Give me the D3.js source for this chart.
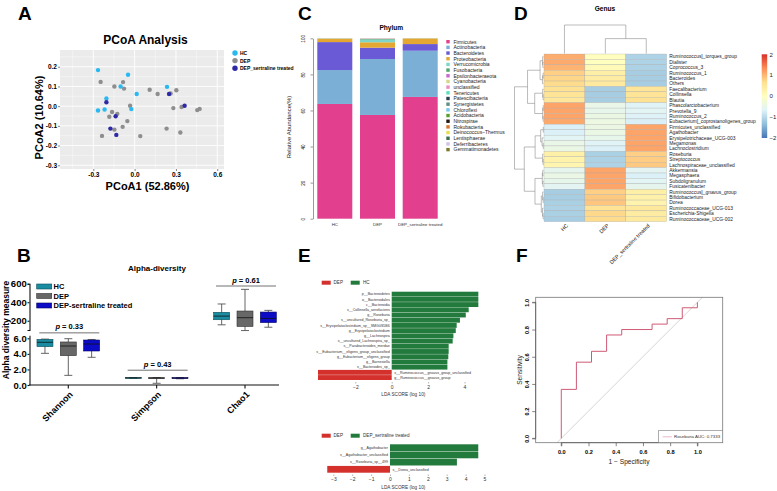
<!DOCTYPE html>
<html>
<head>
<meta charset="utf-8">
<script src="https://d3js.org/d3.v7.min.js"></script>
<style>body{margin:0;background:#fff}</style>
</head>
<body>
<script>
// ---------------- data ----------------
// A: PCoA
const pcoaGroups = ['HC', 'DEP', 'DEP_sertraline treated']
const pcoaHC = [[-0.266,0.183],[-0.048,0.159],[-0.102,0.100],[0.015,0.062],[0.235,0.098],[-0.205,0.039],[-0.266,-0.022],[-0.218,-0.017],[-0.024,-0.015]]
const pcoaDEP = [[-0.247,0.123],[-0.147,0.100],[-0.084,0.122],[-0.077,0.089],[0.109,0.083],[0.167,0.062],[0.303,0.081],[0.261,0.064],
  [-0.033,0.002],[-0.164,-0.030],[-0.126,-0.039],[-0.184,-0.054],[-0.053,-0.076],[-0.087,-0.105],[-0.147,-0.119],[-0.237,-0.151],
  [0.041,-0.152],[0.232,-0.114],[0.332,-0.134],[0.281,-0.010],[0.341,-0.004],[0.455,-0.020],[0.472,-0.014]]
const pcoaSert = [[-0.205,0.020],[-0.138,-0.051],[-0.176,-0.114],[-0.133,-0.146],[0.250,0.062],[0.363,0.002]]
const pcoaXTicks = [-0.3, 0, 0.3, 0.6]
const pcoaYTicks = [-0.3, -0.2, -0.1, 0, 0.1, 0.2]
const pcoaXMinor = [-0.45, -0.15, 0.15, 0.45]
const pcoaYMinor = [-0.25, -0.15, -0.05, 0.05, 0.15, 0.25]

// B: alpha diversity, each box is [min, q1, median, q3, max]
const alphaMetrics = ['Shannon', 'Simpson', 'Chao1']
const alphaGroups = ['HC', 'DEP', 'DEP-sertraline treated']
const shannonBox = [[4.07,4.93,5.49,5.87,5.9],[1.24,3.77,5.01,5.53,5.95],[3.56,4.37,5.27,5.78,5.85]]
const simpsonBox = [[0.85,0.88,0.92,0.94,0.96],[0.22,0.85,0.9,0.93,0.96],[0.8,0.86,0.9,0.94,0.95]]
const chao1Box = [[156,211,250,291,381],[94,138,233,305,539],[130,180,225,294,312]]
const alphaP = ['0.33', '0.43', '0.61']
const alphaPLevel = [6.7, 1.9, 575]
const lowTicks = [0, 2, 4, 6]
const highTicks = [200, 400, 600]

// C: phylum stacked bars
const phyla = ['Firmicutes','Actinobacteria','Bacteroidetes','Proteobacteria','Verrucomicrobia','Fusobacteria',
  'Epsilonbacteraeota','Cyanobacteria','unclassified','Tenericutes','Patescibacteria','Synergistetes','Chloroflexi',
  'Acidobacteria','Nitrospirae','Rokubacteria','Deinococcus\u2212Thermus','Lentisphaerae','Deferribacteres','Gemmatimonadetes']
const phylumColours = ['#e2408f','#7bafd6','#6a5ad6','#e3a732','#7fd6c8','#4fa66a','#c46ad0','#d6d68a','#e88ec0','#5ce0bc',
  '#2c3e50','#5f8f84','#74c9ea','#5aa02c','#231510','#d9772e','#e4e14f','#3b6e4f','#cfc4e6','#7a7a2a']
const phylumGroups = ['HC', 'DEP', 'DEP_sertraline treated']
const phylumHC = [63.6,18.8,15.5,1.9,0.1,0.05,0,0,0.05,0,0,0,0,0,0,0,0,0,0,0]
const phylumDEP = [57.5,31.0,6.3,3.0,1.5,0.4,0.1,0.1,0.1,0,0,0,0,0,0,0,0,0,0,0]
const phylumSert = [67.5,25.6,3.7,3.1,0.05,0.05,0,0,0,0,0,0,0,0,0,0,0,0,0,0]
const abundanceTicks = [0, 20, 40, 60, 80, 100]

// D: genus heatmap (row z-scores)
const genera = ['Ruminococcus]_torques_group','Dialister','Coprococcus_3','Ruminococcus_1','Bacteroides','Others',
  'Faecalibacterium','Collinsella','Blautia','Phascolarctobacterium','Prevotella_9','Ruminococcus_2',
  'Eubacterium]_coprostanoligenes_group','Firmicutes_unclassified','Agathobacter','Erysipelotrichaceae_UCG-003',
  'Megamonas','Lachnoclostridium','Roseburia','Streptococcus','Lachnospiraceae_unclassified','Akkermansia',
  'Megasphaera','Subdoligranulum','Fusicatenibacter','Ruminococcus]_gnavus_group','Bifidobacterium','Dorea',
  'Ruminococcaceae_UCG-013','Escherichia-Shigella','Ruminococcaceae_UCG-002']
const genusGroups = ['HC', 'DEP', 'DEP_sertraline treated']
const genusHC = [1.08,1.10,1.02,0.80,0.75,0.70,0.62,0.58,0.52,1.15,1.15,1.14,1.12,-0.72,-0.70,-0.62,-0.48,-0.45,
  0.32,0.28,0.22,-0.55,-0.45,-0.52,-0.60,-1.15,-1.15,-1.12,-1.10,-1.12,-1.15]
const genusDEP = [0.02,0.00,0.10,0.35,0.40,0.45,-1.15,-1.15,-1.15,-0.48,-0.52,-0.45,-0.40,-0.42,-0.45,-0.52,-0.66,-0.70,
  -1.12,-1.10,-1.08,1.15,1.15,1.15,1.15,0.80,0.85,0.88,0.60,0.72,0.70]
const genusSert = [-1.08,-1.08,-1.10,-1.15,-1.15,-1.15,0.55,0.58,0.62,-0.66,-0.62,-0.68,-0.72,1.14,1.15,1.15,1.15,1.15,
  0.80,0.82,0.86,-0.60,-0.70,-0.62,-0.55,0.35,0.30,0.25,0.50,0.40,0.45]
const genusRowTree = [[[[0,[1,2]],[[3,4],5]],[[6,[7,8]],[[9,10],[11,12]]]],
  [[[[13,14],[15,[16,17]]],[18,[19,20]]],[[[21,22],[23,24]],[[25,[26,27]],[28,[29,30]]]]]]
const genusColTree = [0, [1, 2]]
const heatTicks = [-2, -1, 0, 1, 2]

// E: LEfSe
const ldaHCLabels = ['p__Bacteroidetes','o__Bacteroidales','c__Bacteroidia','s__Collinsella_aerofaciens','g__Roseburia',
  's__uncultured_Roseburia_sp_','s__Erysipelatoclostridium_sp__SMG0S5B6','g__Erysipelatoclostridium','g__Lachnospira',
  's__uncultured_Lachnospira_sp_','s__Parabacteroides_merdae','s__Eubacterium__eligens_group_unclassified',
  'g__Eubacterium__eligens_group','g__Barnesiella','s__Bacteroides_sp_',
  's__Ruminococcus__gnavus_group_unclassified','g__Ruminococcus__gnavus_group']
const ldaHCScores = [4.76,4.76,4.76,4.23,4.07,3.75,3.57,3.52,3.39,3.35,3.13,3.13,3.11,3.06,3.06,-4.05,-4.05]
const ldaHCTicks = [-2, 0, 2, 4]
const ldaSertLabels = ['g__Agathobacter','s__Agathobacter_unclassified','s__Roseburia_sp__499','s__Dorea_unclassified']
const ldaSertScores = [4.67, 4.67, 3.54, -3.32]
const ldaSertTicks = [-3, -2, -1, 0, 1, 2, 3, 4, 5]

// F: ROC
const rocFpr = [0, 0, 0.111, 0.111, 0.222, 0.222, 0.333, 0.333, 0.444, 0.444, 0.667, 0.667, 0.778, 0.778, 0.889, 0.889, 1.0, 1.0]
const rocTpr = [0, 0.36, 0.36, 0.56, 0.56, 0.64, 0.64, 0.76, 0.76, 0.80, 0.80, 0.84, 0.84, 0.88, 0.88, 0.96, 0.96, 1.0]
const rocTicks = [0, 0.2, 0.4, 0.6, 0.8, 1.0]
const rocLabel = 'Roseburia AUC: 0.7333'

// ---------------- drawing ----------------
const FF = '"Liberation Sans", Arial, Helvetica, sans-serif'
const svg = d3.select('body').append('svg')
  .attr('width', 777)
  .attr('height', 491)
  .style('font-family', FF)

function txt(g, x, y, s, size, o = {}) {
  return g.append('text')
    .attr('x', x).attr('y', y)
    .attr('font-size', size)
    .attr('font-family', FF)
    .attr('font-weight', o.bold ? 'bold' : 'normal')
    .attr('text-anchor', o.anchor || 'start')
    .attr('fill', o.fill || '#000')
    .text(s)
}
function styleAxis(sel, size, bold, colour, width) {
  sel.selectAll('text').attr('font-size', size).attr('font-family', FF)
    .attr('font-weight', bold ? 'bold' : 'normal').attr('fill', '#000')
  sel.selectAll('line').attr('stroke', colour).attr('stroke-width', width)
  sel.select('.domain').attr('stroke', colour).attr('stroke-width', width)
}
const fmt1 = d => d3.format('.1f')(d).replace('\u2212', '-')

// panel letters
const letters = [['A', 18, 20], ['B', 17, 262], ['C', 298, 20], ['D', 514, 20], ['E', 298, 262], ['F', 516, 262]]
letters.forEach(l => txt(svg, l[1], l[2], l[0], 19, { bold: true }))

// ---------- A: PCoA ----------
{
  const g = svg.append('g')
  const x = d3.scaleLinear().domain([-0.542, 0.649]).range([60, 224])
  const y = d3.scaleLinear().domain([-0.319, 0.285]).range([169, 50])
  g.append('rect').attr('x', 60).attr('y', 50).attr('width', 164).attr('height', 119).attr('fill', '#ebebeb')
  const grid = (vals, w, vertical) => g.selectAll(null).data(vals).enter().append('line')
    .attr('x1', d => vertical ? x(d) : 60).attr('x2', d => vertical ? x(d) : 224)
    .attr('y1', d => vertical ? 50 : y(d)).attr('y2', d => vertical ? 169 : y(d))
    .attr('stroke', '#fff').attr('stroke-width', w)
  grid(pcoaXMinor, 0.4, true); grid(pcoaYMinor, 0.4, false)
  grid(pcoaXTicks, 0.9, true); grid(pcoaYTicks, 0.9, false)

  const colours = d3.scaleOrdinal().domain(pcoaGroups).range(['#29b8f0', '#8e8e8e', '#2e2aa6'])
  const pts = [].concat(
    pcoaDEP.map(p => ({ g: 'DEP', p })),
    pcoaHC.map(p => ({ g: 'HC', p })),
    pcoaSert.map(p => ({ g: 'DEP_sertraline treated', p })))
  g.selectAll('circle.pt').data(pts).enter().append('circle')
    .attr('cx', d => x(d.p[0])).attr('cy', d => y(d.p[1])).attr('r', 2.2)
    .attr('fill', d => colours(d.g))

  const xa = g.append('g').attr('transform', 'translate(0,169)')
    .call(d3.axisBottom(x).tickValues(pcoaXTicks).tickFormat(fmt1).tickSize(2).tickPadding(1.5))
  xa.select('.domain').remove()
  styleAxis(xa, 6.5, true, '#333', 0.6)
  const ya = g.append('g').attr('transform', 'translate(60,0)')
    .call(d3.axisLeft(y).tickValues(pcoaYTicks).tickFormat(fmt1).tickSize(2).tickPadding(1))
  ya.select('.domain').remove()
  styleAxis(ya, 6.5, true, '#333', 0.6)

  txt(g, 145.5, 44, 'PCoA Analysis', 12, { bold: true, anchor: 'middle' })
  txt(g, 147.5, 190, 'PCoA1 (52.86%)', 11, { bold: true, anchor: 'middle' })
  txt(g, 0, 0, 'PCoA2 (10.64%)', 11, { bold: true, anchor: 'middle' })
    .attr('transform', 'translate(42.5,117.5) rotate(-90)')

  pcoaGroups.forEach((k, i) => {
    g.append('circle').attr('cx', 235).attr('cy', 53 + i * 7.6).attr('r', 2.7).attr('fill', colours(k))
    txt(g, 240, 55 + i * 7.6, k, 5, { bold: true })
  })
}

// ---------- B: alpha diversity ----------
{
  const g = svg.append('g')
  const bx = d3.scalePoint().domain(alphaMetrics).range([68.3, 245])
  const bg = d3.scaleBand().domain(alphaGroups).range([-35, 35])
  const yLow = d3.scaleLinear().domain([0, 6.4]).range([385, 335.2])
  const yHigh = d3.scaleLinear().domain([100, 600]).range([330, 283.7])
  const fills = ['#1a8ca2', '#676767', '#0c0cc6']
  const strokes = ['#0d4f5c', '#333', '#06066a']

  const la = g.append('g').attr('transform', 'translate(29.5,0)')
    .call(d3.axisLeft(yLow).tickValues(lowTicks).tickSize(2).tickSizeOuter(0).tickPadding(0.8))
  styleAxis(la, 9.5, true, '#111', 1.1)
  const ha = g.append('g').attr('transform', 'translate(29.5,0)')
    .call(d3.axisLeft(yHigh).tickValues(highTicks).tickSize(2).tickSizeOuter(2).tickPadding(0.8))
  styleAxis(ha, 9.5, true, '#111', 1.1)

  g.append('line').attr('x1', 29).attr('x2', 279).attr('y1', 385).attr('y2', 385).attr('stroke', '#111').attr('stroke-width', 1.1)
  alphaMetrics.forEach(m => {
    g.append('line').attr('x1', bx(m)).attr('x2', bx(m)).attr('y1', 385).attr('y2', 388.5).attr('stroke', '#111').attr('stroke-width', 1.1)
    txt(g, 0, 0, m, 9, { bold: true, anchor: 'end' }).attr('transform', `translate(${bx(m) + 5},${395}) rotate(-45)`)
  })

  const sets = [shannonBox, simpsonBox, chao1Box]
  sets.forEach((set, mi) => {
    const sc = mi < 2 ? yLow : yHigh
    set.forEach((b, gi) => {
      const cx = bx(alphaMetrics[mi]) + bg(alphaGroups[gi]) + bg.bandwidth() / 2
      const w = 16
      g.append('line').attr('x1', cx).attr('x2', cx).attr('y1', sc(b[0])).attr('y2', sc(b[4])).attr('stroke', '#555').attr('stroke-width', 0.9)
      ;[b[0], b[4]].forEach(v => g.append('line').attr('x1', cx - 4).attr('x2', cx + 4).attr('y1', sc(v)).attr('y2', sc(v))
        .attr('stroke', '#555').attr('stroke-width', 0.9))
      g.append('rect').attr('x', cx - w / 2).attr('y', sc(b[3])).attr('width', w).attr('height', Math.max(0.8, sc(b[1]) - sc(b[3])))
        .attr('fill', fills[gi]).attr('stroke', strokes[gi]).attr('stroke-width', 0.6)
      g.append('line').attr('x1', cx - w / 2).attr('x2', cx + w / 2).attr('y1', sc(b[2])).attr('y2', sc(b[2]))
        .attr('stroke', '#111').attr('stroke-width', 0.8)
    })
    const py = (mi < 2 ? yLow : yHigh)(alphaPLevel[mi])
    const cx = bx(alphaMetrics[mi])
    g.append('line').attr('x1', cx - 29).attr('x2', cx + 31).attr('y1', py).attr('y2', py).attr('stroke', '#333').attr('stroke-width', 0.7)
    const t = txt(g, cx + 1, py - 3.5, '', 7.5, { bold: true, anchor: 'middle' })
    t.append('tspan').attr('font-style', 'italic').text('p')
    t.append('tspan').text(' = ' + alphaP[mi])
  })

  txt(g, 157, 270.5, 'Alpha-diversity', 8, { bold: true, anchor: 'middle' })
  txt(g, 0, 0, 'Alpha diversity measure', 8.5, { bold: true, anchor: 'middle' }).attr('transform', 'translate(8.8,330) rotate(-90)')
  alphaGroups.forEach((k, i) => {
    const yy = 284 + i * 9.5
    g.append('rect').attr('x', 36.7).attr('y', yy).attr('width', 15).attr('height', 5)
      .attr('fill', fills[i]).attr('stroke', strokes[i]).attr('stroke-width', 0.6)
    txt(g, 53.5, yy + 5, k, 7.5, { bold: true })
  })
}

// ---------- C: phylum ----------
{
  const g = svg.append('g')
  const x = d3.scaleBand().domain(phylumGroups).range([313.45, 441.55]).paddingInner(0.18).paddingOuter(0.09)
  const y = d3.scaleLinear().domain([0, 100]).range([218.7, 38.3])
  const colour = d3.scaleOrdinal().domain(phyla).range(phylumColours)
  const table = phylumGroups.map((k, i) => {
    const row = { group: k }
    const src = [phylumHC, phylumDEP, phylumSert][i]
    phyla.forEach((p, j) => row[p] = src[j])
    return row
  })
  const stack = d3.stack().keys(phyla)(table)
  g.selectAll('g.layer').data(stack).enter().append('g')
    .attr('fill', d => colour(d.key))
    .selectAll('rect').data(d => d).enter().append('rect')
      .attr('x', d => x(d.data.group))
      .attr('width', x.bandwidth())
      .attr('y', d => y(d[1]))
      .attr('height', d => y(d[0]) - y(d[1]))

  const ya = g.append('g').attr('transform', 'translate(313,0)')
    .call(d3.axisLeft(y).tickValues(abundanceTicks).tickSize(2.5).tickSizeOuter(0))
  styleAxis(ya, 4.6, false, '#333', 0.5)
  ya.selectAll('.tick text').attr('x', 0).attr('dy', 0).attr('text-anchor', 'middle')
    .attr('transform', 'translate(-8.3,0) rotate(-90)')

  phylumGroups.forEach(k => txt(g, x(k) + x.bandwidth() / 2, 226, k, 4.4, { anchor: 'middle', fill: '#333' }))
  txt(g, 391.3, 30, 'Phylum', 6.6, { bold: true, anchor: 'middle' })
  txt(g, 0, 0, 'Relative Abundance(%)', 6, { anchor: 'middle', fill: '#222' }).attr('transform', 'translate(290.5,127) rotate(-90)')

  phyla.forEach((p, i) => {
    const yy = 41.7 + i * 5.68
    g.append('rect').attr('x', 446.3).attr('y', yy - 1.7).attr('width', 3.4).attr('height', 3.4).attr('fill', colour(p))
    txt(g, 453.5, yy + 1.8, p, 5, { fill: '#222' })
  })
}

// ---------- D: genus heatmap ----------
{
  const g = svg.append('g')
  const x = d3.scaleBand().domain(genusGroups).range([544, 666.7])
  const y = d3.scaleBand().domain(genera).range([54, 221.7])
  const colour = d3.scaleLinear()
    .domain([-2, -1.333, -0.667, 0, 0.667, 1.333, 2])
    .range(['#4575B4', '#91BFDB', '#E0F3F8', '#FFFFBF', '#FEE090', '#FC8D59', '#D73027'])
  const cols = [genusHC, genusDEP, genusSert]
  const cells = []
  genera.forEach((k, i) => genusGroups.forEach((c, j) => cells.push({ row: k, col: c, v: cols[j][i] })))
  g.selectAll('rect.cell').data(cells).enter().append('rect')
    .attr('x', d => x(d.col)).attr('y', d => y(d.row))
    .attr('width', x.bandwidth()).attr('height', y.bandwidth())
    .attr('fill', d => colour(d.v))
    .attr('stroke', '#a8a8a8').attr('stroke-width', 0.3)

  genera.forEach(k => txt(g, 669.3, y(k) + y.bandwidth() / 2 + 1.7, k, 4.9, { fill: '#222' }))
  genusGroups.forEach(k => txt(g, 0, 0, k, 5.4, { anchor: 'end', fill: '#222' })
    .attr('transform', `translate(${x(k) + x.bandwidth() / 2 + 4},226) rotate(-45)`))
  txt(g, 605, 11, 'Genus', 6.6, { bold: true, anchor: 'middle' })

  // dendrograms
  function cluster(tree, vec) {
    const root = d3.hierarchy(tree, d => Array.isArray(d) ? d : null)
    root.eachAfter(n => {
      if (!n.children) { n.vec = vec(n.data); n.h = 0; return }
      const leaves = n.leaves()
      n.vec = n.children[0].vec.map((_, k) => d3.mean(leaves, l => vec(l.data)[k]))
      const [a, b] = n.children
      n.h = d3.max(n.children, c => c.h) + Math.hypot(...a.vec.map((v, k) => v - b.vec[k]))
    })
    return root
  }
  const rowRoot = cluster(genusRowTree, i => [genusHC[i], genusDEP[i], genusSert[i]])
  const colRoot = cluster(genusColTree, j => cols[j])
  rowRoot.eachAfter(n => n.pos = n.children ? d3.mean(n.children, c => c.pos) : y(genera[n.data]) + y.bandwidth() / 2)
  colRoot.eachAfter(n => n.pos = n.children ? d3.mean(n.children, c => c.pos) : x(genusGroups[n.data]) + x.bandwidth() / 2)
  const rh = d3.scaleLinear().domain([0, rowRoot.h]).range([543.5, 514.5])
  const ch = d3.scaleLinear().domain([0, colRoot.h]).range([53.5, 25])
  rowRoot.descendants().filter(n => n.children).forEach(n => {
    const [a, b] = n.children
    g.append('path').attr('fill', 'none').attr('stroke', '#777').attr('stroke-width', 0.5)
      .attr('d', `M${rh(a.h)},${a.pos}H${rh(n.h)}V${b.pos}H${rh(b.h)}`)
  })
  colRoot.descendants().filter(n => n.children).forEach(n => {
    const [a, b] = n.children
    g.append('path').attr('fill', 'none').attr('stroke', '#777').attr('stroke-width', 0.5)
      .attr('d', `M${a.pos},${ch(a.h)}V${ch(n.h)}H${b.pos}V${ch(b.h)}`)
  })

  // colour bar
  const ly = d3.scaleLinear().domain([-2, 2]).range([138, 54.3])
  const grad = svg.append('defs').append('linearGradient').attr('id', 'hm').attr('x1', 0).attr('x2', 0).attr('y1', 1).attr('y2', 0)
  colour.domain().forEach((d, i) => grad.append('stop').attr('offset', (d + 2) / 4).attr('stop-color', colour.range()[i]))
  g.append('rect').attr('x', 761.7).attr('y', ly(2)).attr('width', 5.5).attr('height', ly(-2) - ly(2)).attr('fill', 'url(#hm)')
  heatTicks.forEach(t => txt(g, 769.5, ly(t) + 2.2, t < 0 ? '\u2212' + Math.abs(t) : String(t), 6, { fill: '#222' }))
}

// ---------- E: LEfSe ----------
function ldaChart(labels, scores, ticks, groups, x, rows, axisY, legendY) {
  const g = svg.append('g')
  const y = d3.scaleBand().domain(labels).range(rows).paddingInner(0.06)
  const red = '#d4302c', green = '#237a3d'
  g.selectAll('rect').data(labels).enter().append('rect')
    .attr('x', (d, i) => x(Math.min(0, scores[i])))
    .attr('width', (d, i) => Math.abs(x(scores[i]) - x(0)))
    .attr('y', d => y(d)).attr('height', y.bandwidth())
    .attr('fill', (d, i) => scores[i] < 0 ? red : green)
  labels.forEach((d, i) => {
    const pos = scores[i] >= 0
    txt(g, x(0) + (pos ? -2 : 2.5), y(d) + y.bandwidth() / 2 + 1.2, d, 3.6, { anchor: pos ? 'end' : 'start', fill: '#333' })
  })
  const xa = g.append('g').attr('transform', `translate(0,${axisY})`)
    .call(d3.axisBottom(x).tickValues(ticks).tickFormat(d => d < 0 ? '\u2212' + Math.abs(d) : d).tickSize(1.5).tickPadding(1.8))
  xa.select('.domain').remove()
  styleAxis(xa, 5, false, '#444', 0.4)
  xa.selectAll('text').attr('fill', '#333')
  txt(g, 403.3, axisY + 14, 'LDA SCORE (log 10)', 4.7, { anchor: 'middle', fill: '#333' })
  g.append('rect').attr('x', 321.7).attr('y', legendY - 2).attr('width', 9).attr('height', 4).attr('fill', red)
  txt(g, 333.5, legendY + 1.7, groups[0], 4.6, { fill: '#333' })
  g.append('rect').attr('x', 350.7).attr('y', legendY - 2).attr('width', 9).attr('height', 4).attr('fill', green)
  txt(g, 363, legendY + 1.7, groups[1], 4.6, { fill: '#333' })
}
ldaChart(ldaHCLabels, ldaHCScores, ldaHCTicks, ['DEP', 'HC'],
  d3.scaleLinear().domain([-4.3, 4.9]).range([313.44, 480.88]), [291.7, 380], 382, 282.7)
ldaChart(ldaSertLabels, ldaSertScores, ldaSertTicks, ['DEP', 'DEP_sertraline treated'],
  d3.scaleLinear().domain([-3.5, 5.2]).range([323.85, 488.28]), [444.3, 472.7], 474.5, 435.7)

// ---------- F: ROC ----------
{
  const g = svg.append('g')
  const x = d3.scaleLinear().domain([-0.188, 1.186]).range([535.7, 722.7])
  const y = d3.scaleLinear().domain([-0.032, 1.037]).range([442.7, 297.3])
  const d0 = Math.max(x.domain()[0], y.domain()[0]), d1 = Math.min(x.domain()[1], y.domain()[1])
  g.append('line').attr('x1', x(d0)).attr('y1', y(d0)).attr('x2', x(d1)).attr('y2', y(d1))
    .attr('stroke', '#cfc6c8').attr('stroke-width', 0.8)
  const line = d3.line().x(d => x(d[0])).y(d => y(d[1]))
  g.append('path').datum(rocFpr.map((f, i) => [f, rocTpr[i]]))
    .attr('d', line).attr('fill', 'none').attr('stroke', '#cf5a76').attr('stroke-width', 1)
  g.append('rect').attr('x', 535.7).attr('y', 297.3).attr('width', 187).attr('height', 145.4)
    .attr('fill', 'none').attr('stroke', '#777').attr('stroke-width', 0.8)

  const xa = g.append('g').attr('transform', 'translate(0,442.7)')
    .call(d3.axisBottom(x).tickValues(rocTicks).tickFormat(d3.format('.1f')).tickSize(3.5).tickPadding(3.5))
  styleAxis(xa, 5.6, true, '#555', 0.7)
  xa.select('.domain').attr('d', `M${x(0)},3.5V0H${x(1)}V3.5`)
  const ya = g.append('g').attr('transform', 'translate(535.7,0)')
    .call(d3.axisLeft(y).tickValues(rocTicks).tickFormat(d3.format('.1f')).tickSize(3.5))
  styleAxis(ya, 5.6, true, '#555', 0.7)
  ya.select('.domain').attr('d', `M-3.5,${y(0)}H0V${y(1)}H-3.5`)
  ya.selectAll('.tick text').attr('x', 0).attr('dy', 0).attr('text-anchor', 'middle')
    .attr('transform', 'translate(-6.5,0) rotate(-90)')

  txt(g, 629, 464, '1 \u2212 Specificity', 6.6, { anchor: 'middle', fill: '#222' })
  txt(g, 0, 0, 'Sensitivity', 6.6, { anchor: 'middle', fill: '#222' }).attr('transform', 'translate(521.5,370) rotate(-90)')

  g.append('rect').attr('x', 658.3).attr('y', 430.7).attr('width', 64.4).attr('height', 12)
    .attr('fill', '#fff').attr('stroke', '#777').attr('stroke-width', 0.6)
  g.append('line').attr('x1', 662.7).attr('x2', 671.7).attr('y1', 436.8).attr('y2', 436.8).attr('stroke', '#e3a7b4').attr('stroke-width', 0.8)
  txt(g, 674, 438.4, rocLabel, 4.4, { fill: '#333' })
}
</script>
</body>
</html>
